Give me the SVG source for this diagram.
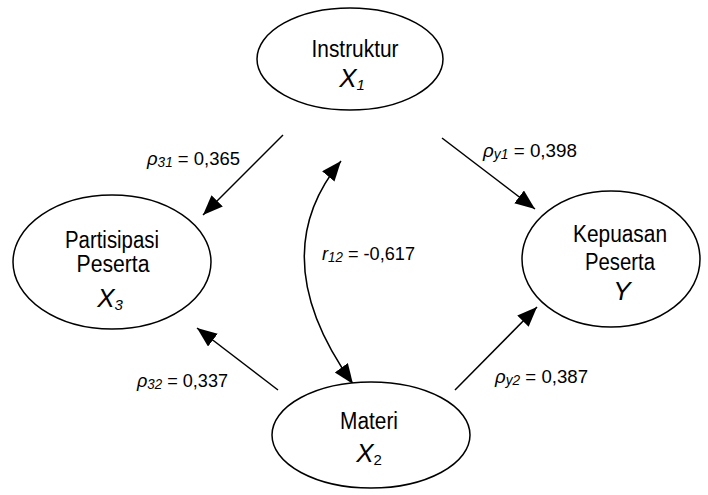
<svg xmlns="http://www.w3.org/2000/svg" width="708" height="495" viewBox="0 0 708 495">
<defs>
<style>
.node{fill:#fff;stroke:#000;stroke-width:1.5}
.t{font-family:"Liberation Sans",Arial,sans-serif;font-size:23px;fill:#000;text-anchor:middle}
.v{font-family:"Liberation Sans",Arial,sans-serif;font-size:26px;font-style:italic;fill:#000;text-anchor:middle}
.lbl{font-family:"Liberation Sans",Arial,sans-serif;font-size:19px;fill:#000}
.it{font-style:italic}
.conn{fill:none;stroke:#000;stroke-width:1.5}
</style>
<marker id="ah" markerUnits="userSpaceOnUse" markerWidth="22" markerHeight="18" refX="20" refY="8" orient="auto-start-reverse">
<path d="M0,0 L20,8 L0,16 z" fill="#000"/>
</marker>
</defs>
<g id="connectors">
<line class="conn" x1="283" y1="135" x2="203" y2="215" marker-end="url(#ah)"/>
<line class="conn" x1="442" y1="138" x2="535" y2="209" marker-end="url(#ah)"/>
<line class="conn" x1="278" y1="390" x2="197" y2="328" marker-end="url(#ah)"/>
<line class="conn" x1="455" y1="390" x2="537" y2="307" marker-end="url(#ah)"/>
<path class="conn" d="M341,161 Q262,257 353,384" marker-start="url(#ah)" marker-end="url(#ah)"/>
<text class="lbl" x="147" y="165" textLength="93" lengthAdjust="spacingAndGlyphs"><tspan class="it">ρ</tspan><tspan class="it" font-size="14" dy="2">31</tspan><tspan dy="-2"> = 0,365</tspan></text>
<text class="lbl" x="483" y="157" textLength="94" lengthAdjust="spacingAndGlyphs"><tspan class="it">ρ</tspan><tspan class="it" font-size="14" dy="2">y1</tspan><tspan dy="-2"> = 0,398</tspan></text>
<text class="lbl" x="322" y="260" textLength="93" lengthAdjust="spacingAndGlyphs"><tspan class="it">r</tspan><tspan class="it" font-size="14" dy="2">12</tspan><tspan dy="-2"> = -0,617</tspan></text>
<text class="lbl" x="137" y="387" textLength="91" lengthAdjust="spacingAndGlyphs"><tspan class="it">ρ</tspan><tspan class="it" font-size="14" dy="2">32</tspan><tspan dy="-2"> = 0,337</tspan></text>
<text class="lbl" x="495" y="383" textLength="93" lengthAdjust="spacingAndGlyphs"><tspan class="it">ρ</tspan><tspan class="it" font-size="14" dy="2">y2</tspan><tspan dy="-2"> = 0,387</tspan></text>
</g>
<g id="instruktur">
<ellipse class="node" cx="350" cy="59" rx="93" ry="51"/>
<text class="t" x="355" y="57" textLength="87" lengthAdjust="spacingAndGlyphs">Instruktur</text>
<text class="v" x="352" y="87">X<tspan font-size="15" dy="3">1</tspan></text>
</g>
<g id="partisipasi">
<ellipse class="node" cx="112" cy="262" rx="99" ry="67"/>
<text class="t" x="112" y="248" textLength="94" lengthAdjust="spacingAndGlyphs">Partisipasi</text>
<text class="t" x="113" y="272" textLength="73" lengthAdjust="spacingAndGlyphs">Peserta</text>
<text class="v" x="110" y="307">X<tspan font-size="15" dy="3">3</tspan></text>
</g>
<g id="kepuasan">
<ellipse class="node" cx="611" cy="259" rx="89" ry="68"/>
<text class="t" x="620" y="242" textLength="94" lengthAdjust="spacingAndGlyphs">Kepuasan</text>
<text class="t" x="620" y="270" textLength="70" lengthAdjust="spacingAndGlyphs">Peserta</text>
<text class="v" x="622" y="300">Y</text>
</g>
<g id="materi">
<ellipse class="node" cx="371" cy="435" rx="99" ry="53"/>
<text class="t" x="369" y="429" textLength="58" lengthAdjust="spacingAndGlyphs">Materi</text>
<text class="v" x="369" y="462">X<tspan font-size="15" font-style="normal" dy="3">2</tspan></text>
</g>
</svg>
